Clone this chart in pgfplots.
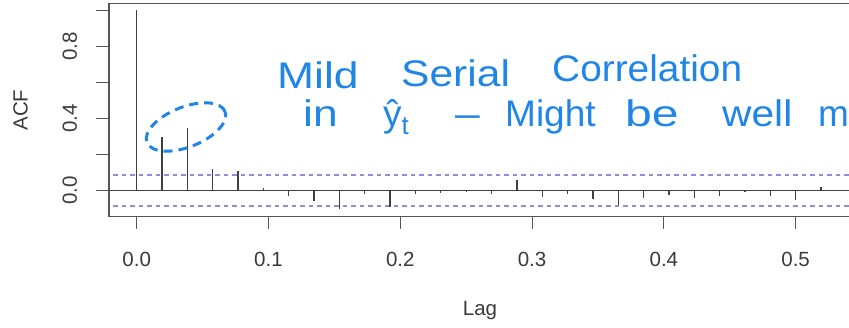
\documentclass[border=0pt]{standalone}
\usepackage{pgfplots}
\pgfplotsset{compat=1.18}
\usepackage{fontspec}
\setmainfont{Liberation Sans}
\newfontfamily\hand{Liberation Sans}
\definecolor{rgray}{HTML}{404040}
\definecolor{axgray}{HTML}{555555}
\definecolor{labgray}{HTML}{3A3A3A}
\definecolor{cibl}{HTML}{8C8CE0}
\definecolor{pen}{HTML}{1F86E8}
\pgfplotstableread{
lag acf
0.000000 1.000
0.019231 0.295
0.038462 0.346
0.057692 0.122
0.076923 0.107
0.096154 0.014
0.115385 -0.033
0.134615 -0.060
0.153846 -0.105
0.173077 -0.018
0.192308 -0.089
0.211538 -0.022
0.230769 -0.012
0.250000 -0.010
0.269231 -0.018
0.288462 0.061
0.307692 -0.037
0.326923 -0.022
0.346154 -0.050
0.365385 -0.080
0.384615 -0.040
0.403846 -0.027
0.423077 -0.043
0.442308 -0.033
0.461538 -0.008
0.480769 -0.030
0.500000 -0.055
0.519231 0.020
}\acftable
\begin{document}
\begin{tikzpicture}
\path[use as bounding box] (0pt,0pt) rectangle (849pt,327pt);
\begin{axis}[
  at={(109pt,110.3pt)}, anchor=south west,
  scale only axis, width=742pt, height=213.4pt,
  xmin=-0.021, xmax=0.542, ymin=-0.1456, ymax=1.040,
  axis line style={draw=axgray, line width=1.2pt},
  tick align=outside, major tick length=12.5pt,
  tick pos=left,
  every tick/.style={draw=axgray, line width=1.1pt},
  xtick={0,0.1,0.2,0.3,0.4,0.5},
  xticklabels={0.0,0.1,0.2,0.3,0.4,0.5},
  ytick={0,0.2,0.4,0.6,0.8,1},
  yticklabels={0.0,{},0.4,{},0.8,{}},
  tick label style={font=\fontsize{20.5}{24}\selectfont, text=labgray},
  x tick label style={anchor=north, yshift=-19pt},
  y tick label style={xshift=-16pt, rotate=90, anchor=south},
  xlabel={Lag}, ylabel={ACF},
  every axis x label/.style={at={(rel axis cs:0.5,0)}, yshift=-94pt, anchor=center, font=\fontsize{20.5}{24}\selectfont, text=labgray},
  every axis y label/.style={at={(rel axis cs:0,0.5)}, xshift=-88.5pt, anchor=center, rotate=90, font=\fontsize{20.5}{24}\selectfont, text=labgray},
]
\addplot[cibl, line width=1.2pt, dash pattern=on 4.5pt off 4pt] coordinates {(-0.05,0.086) (0.6,0.086)};
\addplot[cibl, line width=1.2pt, dash pattern=on 4.5pt off 4pt] coordinates {(-0.05,-0.086) (0.6,-0.086)};
\addplot[rgray, line width=1.2pt] coordinates {(-0.05,0) (0.6,0)};
\addplot[ycomb, rgray, line width=1.3pt, mark=none] table[x=lag, y=acf] {\acftable};
\end{axis}
\draw[pen, line width=3pt, dash pattern=on 9pt off 6pt, rotate around={21.6:(186pt,200pt)}] (186pt,200pt) ellipse [x radius=42pt, y radius=20pt];
\begin{scope}[every node/.style={text=pen, font=\hand\fontsize{37}{40}\selectfont, inner sep=0pt, anchor=base west}]
\node at (277pt,238pt) {\scalebox{1.2}[1]{Mild}};
\node at (401pt,240pt) {\scalebox{1.15}[1]{Serial}};
\node at (552pt,245pt) {\scalebox{1.05}[1]{Correlation}};
\node at (303pt,200pt) {\scalebox{1.2}[1]{in}};
\node at (383pt,200pt) {ŷ\raisebox{-8pt}{\fontsize{26}{28}\selectfont t}};
\node at (455pt,200pt) {\scalebox{1.2}[1]{–}};
\node at (505pt,200pt) {Might};
\node at (625pt,200pt) {\scalebox{1.3}[1]{be}};
\node at (722pt,200pt) {\scalebox{1.1}[1]{well}};
\node at (818pt,200pt) {m};
\end{scope}
\end{tikzpicture}
\end{document}
